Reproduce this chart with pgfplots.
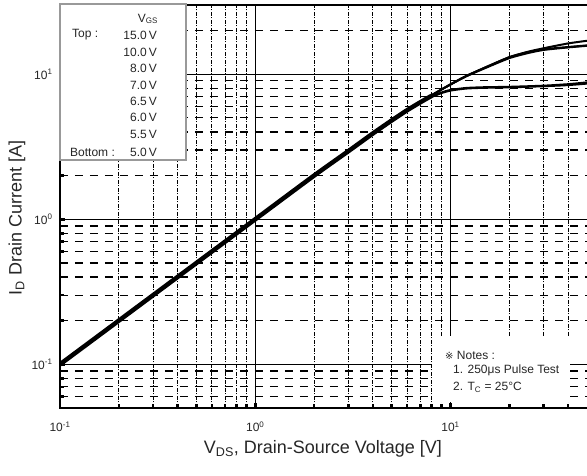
\documentclass[border=0pt]{standalone}
\usepackage{fontspec}
\setmainfont{Liberation Sans}
\newfontfamily\symb{DejaVu Sans}
\usepackage{pgfplots}
\pgfplotsset{compat=1.18}
\begin{document}
\begin{tikzpicture}
\begin{axis}[
  name=ax,
  at={(0pt,0pt)}, anchor=south west,
  scale only axis, width=527pt, height=403pt,
  xmode=log, ymode=log,
  xmin=0.1, xmax=50, ymin=0.05, ymax=30,
  xtick={0.1,1,10},
  xticklabels={10\textsuperscript{-1},10\textsuperscript{0},10\textsuperscript{1}},
  ytick={0.1,1,10},
  yticklabels={10\textsuperscript{-1},10\textsuperscript{0},10\textsuperscript{1}},
  minor xtick={0.2,0.3,0.4,0.5,0.6,0.7,0.8,0.9,2,3,4,5,6,7,8,9,20,30,40},
  minor ytick={0.06,0.07,0.08,0.09,0.2,0.3,0.4,0.5,0.6,0.7,0.8,0.9,2,3,4,5,6,7,8,9,20},
  grid=both,
  major grid style={black, line width=1.1pt},
  minor x grid style={black, line width=0.9pt, dash pattern=on 4pt off 1.5pt on 1pt off 1.5pt},
  minor y grid style={black, line width=1.2pt, dash pattern=on 8pt off 7pt},
  tick align=inside,
  xtick pos=bottom, ytick pos=left,
  tick style={black, line width=2.5pt},
  major tick length=5pt, minor tick length=4pt,
  tick label style={font=\fontsize{12}{14}\selectfont, text=black!85},
  xticklabel style={yshift=-10pt},
  yticklabel style={xshift=-4pt},
  xlabel={V\textsubscript{DS}, Drain-Source Voltage [V]},
  ylabel={I\textsubscript{D} Drain Current [A]},
  label style={font=\fontsize{18}{20}\selectfont, text=black!85},
  xlabel style={at={(axis description cs:0.499,-0.102)}, anchor=center},
  ylabel style={at={(axis description cs:-0.0816,0.471)}, anchor=center, rotate=0},
]
% common linear region
\addplot[black, line width=4.5pt, smooth, tension=0.4] coordinates {
(0.1,0.1) (0.2,0.2) (0.5,0.5) (1,1) (2,2) (3,2.95) (4,3.9) (5,4.8) (6,5.65) (7,6.4) (8,7.1)};
% 15 V
\addplot[black, line width=2pt, smooth, tension=0.4] coordinates {
(0.1,0.1) (1,1) (3,2.95) (5,4.8) (7,6.4) (8,7.15) (9,7.85) (10,8.5) (12,9.7) (15,11.1) (20,13.1) (25,14.3) (30,15.1) (40,16.3) (50,17.0)};
% 10 V
\addplot[black, line width=2pt, smooth, tension=0.4] coordinates {
(0.1,0.1) (1,1) (3,2.95) (5,4.8) (7,6.4) (8,7.15) (9,7.85) (10,8.5) (12,9.7) (15,11.1) (20,13.1) (25,14.2) (30,14.85) (40,15.4) (50,15.8)};
% 8 V .. 6 V (overlapping)
\addplot[black, line width=2pt, smooth, tension=0.4] coordinates {
(0.1,0.1) (1,1) (3,2.95) (5,4.8) (7,6.4) (8,7.15) (9,7.85) (10,8.5) (12,9.65) (15,11.0) (20,12.9) (25,14.0) (30,14.7) (40,15.3) (50,15.7)};
% 5.5 V
\addplot[black, line width=1.8pt, smooth, tension=0.4] coordinates {
(0.1,0.1) (1,1) (3,2.95) (5,4.8) (7,6.35) (8,7.0) (9,7.5) (10,7.8) (12,8.05) (15,8.15) (20,8.2) (30,8.35) (40,8.55) (50,8.8)};
% 5.0 V
\addplot[black, line width=1.8pt, smooth, tension=0.4] coordinates {
(0.1,0.1) (1,1) (3,2.95) (5,4.8) (7,6.35) (8,6.95) (9,7.4) (10,7.7) (12,7.95) (15,8.05) (20,8.1) (30,8.25) (40,8.4) (50,8.6)};
\end{axis}
% heavy frame
\draw[black, line width=2.5pt, line cap=rect] (ax.north west) -- (ax.south west) -- (ax.south east);
\draw[black, line width=2.5pt, line cap=rect] (ax.north west) -- (ax.north east);
% legend box
\fill[white] (-2.5pt,246.5pt) rectangle (127pt,406pt);
\draw[black!40, line width=1.3pt] (0pt,248pt) rectangle (126pt,404pt);
\begin{scope}[every node/.style={font=\fontsize{12}{14}\selectfont, text=black!85, inner sep=0pt}]
\node at (88pt,389pt) {V\textsubscript{GS}};
\node[anchor=west] at (12pt,373pt) {Top :};
\node[anchor=west] at (10pt,256pt) {Bottom :};
\node[anchor=east] at (97pt,373pt) {15.0\,V};
\node[anchor=east] at (97pt,356pt) {10.0\,V};
\node[anchor=east] at (97pt,340pt) {8.0\,V};
\node[anchor=east] at (97pt,323pt) {7.0\,V};
\node[anchor=east] at (97pt,307pt) {6.5\,V};
\node[anchor=east] at (97pt,291pt) {6.0\,V};
\node[anchor=east] at (97pt,274pt) {5.5\,V};
\node[anchor=east] at (97pt,256pt) {5.0\,V};
\end{scope}
% notes box
\fill[white] (372pt,6pt) rectangle (510pt,72pt);
\begin{scope}[every node/.style={font=\fontsize{12}{14}\selectfont, text=black!85, inner sep=0pt, anchor=west}]
\node at (385pt,53pt) {{\symb\fontsize{10}{12}\selectfont ※} Notes :};
\node at (393pt,38pt) {1. 250μs Pulse Test};
\node at (393pt,21pt) {2. T\textsubscript{C} = 25°C};
\end{scope}
\pgfresetboundingbox
\path[use as bounding box] (-60pt,-68pt) rectangle (527pt,408pt);
\end{tikzpicture}
\end{document}
